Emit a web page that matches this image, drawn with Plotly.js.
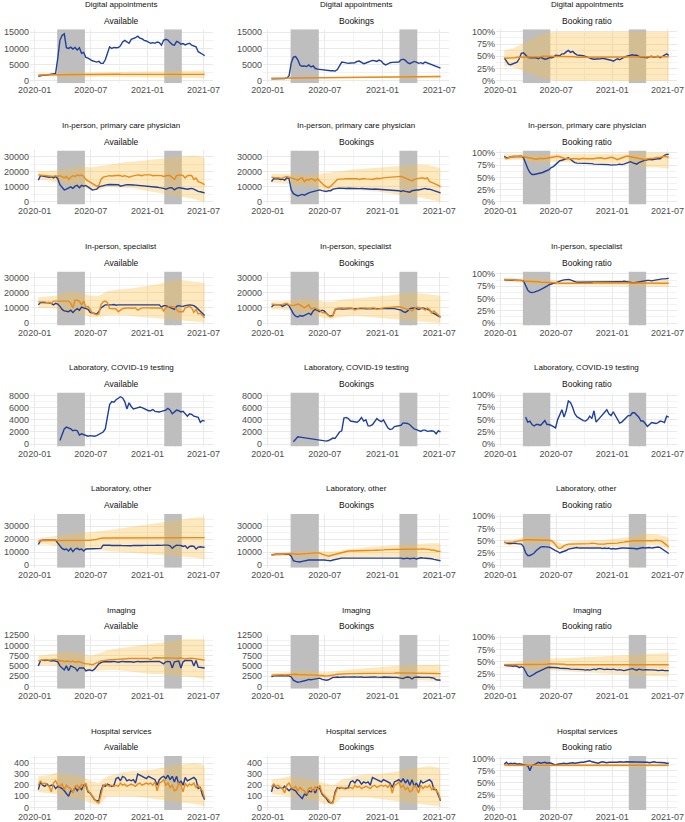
<!DOCTYPE html>
<html><head><meta charset="utf-8">
<script src="https://cdn.plot.ly/plotly-3.0.1.min.js"></script>
<style>html,body{margin:0;padding:0;background:#fff}#chart{width:685px;height:822px}</style>
</head><body><div id="chart"></div>
<script>
// ---------- categories / labels ----------
const rowTitles = ['Digital appointments','In-person, primary care physician','In-person, specialist','Laboratory, COVID-19 testing','Laboratory, other','Imaging','Hospital services'];
const colTitles = ['Available','Bookings','Booking ratio'];
const lockStart = ['2020-03-14','2021-02-24'];
const lockEnd   = ['2020-06-12','2021-04-22'];

// weekly observation dates (Monday of each week, 2020-01-13 .. 2021-07-05)
const weeks = [];
for (let i = 0; i < 78; i++) { const d = new Date(Date.UTC(2020, 0, 13 + 7 * i)); weeks.push(d.toISOString().slice(0, 10)); }
// band (range) sampled every 4 weeks
const bandIdx = []; for (let i = 0; i <= 76; i += 4) bandIdx.push(i); bandIdx.push(77);
const bandDates = bandIdx.map(i => weeks[i]);

// ---------- Digital appointments ----------
const digAvailBlue = [1400,1600,1700,1700,1800,1900,2000,2100,2300,7000,
 12500,14000,14500,10200,10000,10400,9800,10300,9500,10200,
 8500,8800,7200,7000,6500,6200,6000,5800,6000,5400,
 5400,6500,8500,10500,10000,10300,10200,10300,10800,12000,
 12500,12000,11600,12800,13000,13300,13800,13200,13000,12500,
 12300,12000,11600,11800,11600,12000,11800,11000,12500,12800,
 12600,11800,11200,11000,12200,11900,11300,11500,11100,11400,
 11600,11000,10800,10500,9000,8700,8200,7800];
const digAvailOrange = [1800,1820,1830,1850,1850,1860,1870,1880,1900,1900,
 1880,1900,1920,1900,1910,1930,1920,1940,1950,1940,
 1950,1960,1950,1970,1980,1960,1970,1990,2000,1990,
 2000,2010,2000,2020,2030,2050,2070,2050,2030,2040,
 2050,2060,2070,2050,2040,2030,2020,2010,2000,2010,
 2020,2010,2000,1990,2000,2010,2000,1990,2000,2010,
 2000,1990,2000,2010,2000,1990,2000,2010,2000,1990,
 2000,2000,2010,2000,1990,2000,2000,1990];
const digAvailLo = [1500,1450,1400,1350,1300,1300,1250,1250,1200,1200,1150,1150,1100,1100,1050,1000,1000,950,950,900,900];
const digAvailHi = [2300,2350,2400,2450,2500,2500,2550,2600,2650,2700,2750,2800,2850,2900,2950,3000,3050,3100,3150,3200,3200];

const digBookBlue = [600,600,550,500,500,550,700,900,1500,5500,
 7300,7500,6500,4800,4500,4600,4400,4900,4300,4600,
 3800,3600,3500,3300,3300,3200,3200,3100,3100,3000,
 3500,4800,5800,5700,5500,5400,5500,5500,5600,6000,
 6100,5700,5300,5500,5800,6000,6300,6200,6000,6400,
 6100,5300,4900,5200,5600,5700,5800,5700,5800,6500,
 6700,6300,5600,5300,5700,6000,5800,5400,5600,5300,
 5800,5500,5300,4900,4800,4500,4100,3900];
const digBookOrange = [800,810,820,830,840,850,850,860,870,880,
 880,890,900,900,910,920,930,930,940,950,
 960,960,970,980,990,1000,1000,1010,1020,1030,
 1040,1050,1060,1070,1080,1090,1100,1100,1110,1120,
 1130,1140,1150,1150,1160,1170,1180,1180,1190,1200,
 1200,1210,1220,1220,1230,1230,1240,1240,1250,1250,
 1260,1260,1270,1270,1270,1280,1280,1280,1290,1290,
 1290,1300,1300,1300,1310,1310,1310,1320];
const digBookLo = [650,680,700,730,760,780,800,820,840,860,880,900,910,920,930,940,950,960,970,970,980];
const digBookHi = [950,980,1010,1050,1090,1130,1170,1210,1250,1290,1330,1370,1400,1430,1460,1490,1520,1550,1580,1610,1620];

const digRatioBlue = [47,40,34,33,35,37,38,45,56,57,
 53,48,47,47,46,47,45,48,46,44,
 45,47,47,48,52,51,51,55,55,59,
 62,58,60,56,53,52,52,51,50,48,
 46,45,44,44,44,45,46,45,45,44,
 42,40,43,45,43,46,48,50,51,52,
 53,52,52,50,48,48,47,47,49,50,
 48,49,50,47,50,53,55,52];
const digRatioOrange = [46,46,47,47,47,47,48,48,48,48,
 48,48,48,49,49,49,49,49,50,50,
 50,50,50,50,50,50,50,50,49,49,
 49,49,49,49,48,48,48,48,48,48,
 48,48,48,48,48,48,48,48,48,48,
 48,48,48,49,49,49,49,49,49,49,
 49,49,49,49,49,49,49,49,49,49,
 49,49,49,49,49,49,49,49];
const digRatioLo = [30,28,22,15,8,3,0,0,0,0,0,0,0,0,0,0,0,0,0,0,0];
const digRatioHi = [63,66,74,83,92,98,100,100,100,100,100,100,100,100,100,100,100,100,100,100,100];

// ---------- In-person, primary care physician ----------
const pcpAvailBlue = [14500,17500,17300,17000,16800,16500,16800,16000,17000,15500,
 11500,10000,8000,8500,9000,10000,9000,10500,11000,9500,
 11000,10500,11000,10000,8500,8000,8200,8500,10000,10500,
 11000,11500,11500,11600,11500,11400,11500,11500,10500,11000,
 11200,11500,11500,11200,11300,11200,11100,11000,11000,10800,
 10700,10500,10300,10200,10000,9800,9500,9500,9000,8500,
 9000,9500,9300,8000,9000,9500,9300,9000,9200,8500,
 8800,9000,8500,7500,7000,6800,6500,6000];
const pcpAvailOrange = [18000,17800,17600,17500,17300,17500,17200,17000,17500,17000,
 17500,16500,16000,17000,15000,16500,17500,17000,18000,17500,
 18000,17000,15000,14000,13000,12000,11000,10500,11000,15000,
 16500,17000,17500,17500,17300,17500,17500,17800,17500,17000,
 17500,17000,16500,17000,17500,17800,18000,17800,17500,18000,
 17800,18000,18000,17500,17600,17500,17800,17500,17000,17500,
 17800,17500,16500,15000,17500,17800,18000,17500,16000,17500,
 17800,17500,15000,16000,13500,13000,12000,11500];
const pcpAvailLo = [15000,14500,13000,11500,11000,10000,8000,8000,10000,10000,9500,9000,8500,7500,6500,5000,4000,3000,2000,500,0];
const pcpAvailHi = [20500,20500,21000,22000,23000,24000,23000,24000,25000,26000,26500,27000,27500,28000,28500,29500,30000,30500,31000,30000,29000];

const pcpBookBlue = [13500,15500,15500,15600,15000,15200,14500,16000,15500,8000,
 5500,4500,4000,4500,5000,4500,5500,6000,6500,7000,
 7500,7500,8000,7500,7000,7000,7500,7500,8500,9000,
 9000,9200,9000,8900,9000,9100,9000,8900,9000,8800,
 8900,9000,8800,8700,8800,8600,8500,8600,8500,8400,
 8500,8300,8200,8000,8000,7800,7900,7800,7500,7000,
 7500,7000,6500,6500,7500,8000,8000,8000,8500,8500,
 9000,8500,8500,8000,7500,7000,6500,6000];
const pcpBookOrange = [16500,16000,16000,16200,15800,16000,16500,17000,16500,16000,
 15500,15000,14500,15500,16000,13500,15000,14500,15500,15000,
 14000,15500,14000,12000,11000,10000,9500,10500,12000,14000,
 15000,15200,15500,15300,15500,15600,15500,15400,15600,15500,
 15000,15500,15600,15400,15500,15200,15000,15500,15800,15500,
 15500,16000,16200,16300,16500,16500,16800,17000,16800,17000,
 16500,16000,15000,14500,14000,15000,15500,15500,16000,16000,
 15500,16000,13500,13000,12500,12000,11000,10000];
const pcpBookLo = [13000,12500,12000,10500,10500,9500,8000,8000,8500,8500,8000,7500,7000,6500,5500,4500,3500,3000,2000,500,0];
const pcpBookHi = [19000,19000,19000,18500,18000,18500,19000,19500,20500,21500,22000,22500,23000,23500,24000,24500,25000,25000,24500,23000,22000];

const pcpRatioBlue = [93,90,90,92,92,92,92,92,93,90,
 78,68,60,56,56,57,57,58,60,62,
 64,66,70,72,76,80,84,85,86,88,
 90,87,83,80,79,79,79,79,79,78,
 78,78,77,77,77,77,76,76,76,76,
 75,75,75,76,77,76,77,79,80,82,
 80,79,77,80,82,84,85,86,87,86,
 87,88,88,88,92,95,97,97];
const pcpRatioOrange = [91,88,90,92,93,93,92,92,93,92,
 91,90,89,88,88,87,88,89,88,88,
 89,90,91,92,93,93,92,90,89,88,
 88,88,89,88,88,87,88,89,88,88,
 88,87,88,89,90,90,89,88,89,90,
 91,90,88,86,88,90,92,93,93,92,
 92,91,90,89,88,87,86,88,88,88,
 89,90,90,91,92,93,92,91];
const pcpRatioLo = [85,86,86,82,80,82,82,82,80,80,80,80,78,78,78,76,72,70,70,68,68];
const pcpRatioHi = [97,98,98,97,96,96,98,98,97,97,97,97,98,98,98,99,100,100,100,100,100];

// ---------- In-person, specialist ----------
const specAvailBlue = [12000,13500,13500,13500,13300,13400,13000,12000,13000,12500,
 11000,9000,8000,7500,7500,8500,7000,8500,9500,8500,
 10500,10000,9500,9000,7000,6500,6200,6000,7500,10000,
 11000,12000,12000,11800,12000,12200,11800,12000,12000,11800,
 11800,12000,12000,11900,12000,12000,11800,12000,11900,12000,
 12000,11800,12000,11800,12000,11900,12000,10500,11500,11500,
 11000,10500,10000,9000,11000,11500,11200,11000,11500,11800,
 12000,11800,11500,10500,9000,8000,6000,5000];
const specAvailOrange = [14000,14000,13800,14000,13500,13800,13000,14500,14500,14300,
 14500,14500,14300,14500,14500,13000,10000,15000,15000,14500,
 12000,14500,10500,11000,9000,6500,6000,5500,6000,12000,
 14000,14500,13500,9500,9500,9500,9300,7500,8500,9500,
 9800,10000,10000,9800,10000,10000,8500,9500,10000,10000,
 9800,10000,9900,10000,10000,10000,9800,10000,8000,10000,
 10500,11000,10800,10500,9000,7500,7500,7500,10000,10500,
 11000,10000,7000,9000,6000,6500,5000,3500];
const specAvailLo = [10000,10000,9500,7000,6500,6000,4000,4000,5000,5000,5000,4500,4000,3500,3000,2500,2000,1500,1000,500,0];
const specAvailHi = [17000,17500,18000,20000,21000,20000,18000,18000,21000,22000,22500,23000,24000,25000,26000,27500,28500,28000,27500,27000,26500];

const specBookBlue = [10500,12000,12000,11800,12000,11000,11800,12500,11500,8500,
 6000,4500,4000,5000,4500,5000,5500,6500,5500,8000,
 9000,8000,7500,8500,8000,6500,5000,4500,5000,9000,
 9500,9500,9300,9500,9400,9500,9600,9500,9400,9500,
 9500,9600,9500,9400,9500,9500,9400,9500,9600,9500,
 9500,9400,9500,9500,9600,9500,9500,9200,9000,8500,
 7500,7000,8000,9500,9800,10000,9500,9000,9500,10000,
 9500,9000,8500,7000,6500,5500,4500,4000];
const specBookOrange = [12500,12300,12000,12200,12000,12300,12800,13000,12000,11800,
 11500,12000,12500,12000,11000,10000,11000,12000,9500,9800,
 10000,9000,8500,7000,6800,6500,5000,4000,4800,9000,
 9800,10000,10000,9800,10000,10000,9900,9800,8500,9500,
 10000,10000,9900,10000,10000,9800,10000,10000,9000,9500,
 10000,10000,10200,10300,10500,10600,10800,11000,10800,10500,
 10200,9500,9000,9000,8000,9000,10500,10300,10000,9500,
 8500,10000,9000,6500,8000,6500,5000,4000];
const specBookLo = [9000,9000,8500,6500,6000,5500,3000,3000,4000,4500,4500,4000,3500,3000,2500,2000,1500,1000,500,0,0];
const specBookHi = [14000,14000,14500,16000,16500,15500,14000,14000,15500,16000,16500,17000,17500,18000,18500,19500,20000,19500,19000,18500,18000];

const specRatioBlue = [88,88,88,88,88,87,87,87,87,86,
 78,67,63,62,63,64,66,68,70,73,
 75,78,80,81,82,84,86,87,88,89,
 89,88,86,84,83,83,83,84,83,83,
 83,84,83,83,84,84,83,83,84,84,
 83,84,84,83,84,84,85,84,83,83,
 82,82,83,84,85,86,86,87,87,86,
 87,88,89,89,90,90,91,91];
const specRatioOrange = [89,89,88,88,88,87,87,87,86,86,
 85,85,85,84,84,84,84,83,83,83,
 83,83,82,82,82,82,81,81,81,81,
 80,80,80,80,80,80,80,81,81,81,
 81,81,82,82,82,82,82,82,82,82,
 82,82,82,82,82,82,82,82,82,82,
 82,82,81,81,81,81,81,81,81,81,
 81,81,81,81,81,81,81,81];
const specRatioLo = [84,84,82,80,79,78,77,76,76,76,76,76,76,76,76,75,75,75,74,74,74];
const specRatioHi = [92,92,91,90,89,88,88,87,87,87,87,87,88,88,88,88,88,88,88,88,88];

// ---------- Laboratory, COVID-19 testing (no comparison series) ----------
const labCovAvailBlue = [null,null,null,null,null,null,null,null,null,null,
 600,1500,2500,2800,2700,2500,2200,2300,2200,1500,
 1700,1600,1500,1300,1400,1300,1300,1400,1600,1700,
 2000,2500,4500,6500,7000,6900,7300,7500,7800,7600,
 7000,5800,6800,6200,5800,5900,6000,6100,6000,5800,
 5700,5500,5500,5700,5400,5300,5300,5400,5500,5600,
 5900,5600,5000,5300,5600,5500,5300,5400,5000,4600,
 5000,4900,4600,4500,4400,3600,3900,3800];
const labCovBookBlue = [null,null,null,null,null,null,null,null,null,null,
 400,900,1200,1150,1100,1000,900,950,900,800,
 750,700,650,600,550,500,600,800,1000,950,
 1500,2000,2200,4300,4400,4200,3800,3700,3700,3600,
 3900,4400,3800,4000,3000,3000,3200,3700,4200,3900,
 3700,4000,3400,2700,2400,2500,2900,3000,3000,3100,
 3500,3500,3400,3200,2800,2500,2400,2300,2100,2300,
 2300,2100,2200,2200,2100,1700,2200,2000];
const labCovRatioBlue = [null,null,null,null,null,null,null,null,null,null,
 55,45,47,40,37,40,40,38,43,48,
 40,40,38,35,33,50,62,70,55,68,
 88,85,75,62,56,53,50,48,47,50,
 57,52,68,45,50,55,58,65,70,62,
 58,66,58,50,43,45,50,55,58,58,
 64,64,60,55,47,47,42,36,40,44,
 43,42,44,47,46,44,57,55];

// ---------- Laboratory, other ----------
const labAvailBlue = [16000,19000,19200,19200,19000,19200,19300,19000,19200,17000,
 14500,13000,12000,12500,11000,13000,10500,12500,13000,12000,
 12500,11000,12500,12500,12500,12500,12800,12500,12600,13000,
 15500,15600,15500,15400,15200,15300,15000,15200,15300,15100,
 15000,15200,15100,15000,15300,15200,15000,15100,15200,15300,
 15200,15400,15300,15200,15300,15400,15200,15300,15500,15600,
 15500,15000,13000,14500,15400,15300,15200,14500,15000,13000,
 14500,14800,14500,12500,14000,14200,14000,13800];
const labAvailOrange = [18500,19000,19000,19000,19000,19000,19000,19000,19000,19000,
 19000,19000,18900,18800,18900,19000,19000,18900,19000,19000,
 19000,19000,19000,19000,19200,19500,19600,19800,20500,21000,
 21000,21000,21000,21000,21000,21000,21000,21000,21000,21000,
 21000,21000,21000,21100,21000,21000,21000,21100,21200,21100,
 21100,21200,21200,21200,21200,21300,21300,21300,21300,21300,
 21300,21300,21300,21300,21300,21300,21300,21300,21300,21300,
 21300,21300,21300,21300,21300,21300,21300,21300];
const labAvailLo = [16000,16000,15000,14000,13000,12500,11500,11000,11000,10500,10000,9500,9000,8500,8000,7500,7000,6500,6000,5000,4500];
const labAvailHi = [21000,21500,22500,23500,24500,25000,25500,26000,27000,28000,29000,30000,31000,32000,33000,34000,35000,35500,36500,37000,37000];

const labBookBlue = [8000,8500,8500,8600,8500,8500,8600,8500,8500,7000,
 3500,3000,2500,2500,3000,3500,3500,4000,4000,4000,
 4500,4500,4500,4000,4000,3800,3500,3500,4000,4500,
 5000,5500,5500,5500,5500,5600,5500,5500,5600,5500,
 5500,5600,5500,5500,5500,5600,5500,5400,5500,5500,
 5400,5500,5400,5500,5500,5600,5500,5500,5500,5500,
 5000,5500,5500,5000,5500,5500,4800,5500,5800,5600,
 5500,5500,5000,5000,4500,4000,3800,3500];
const labBookOrange = [8000,8200,8300,8500,8400,8500,8600,8800,9000,9000,
 8800,8500,8500,8600,8800,9000,9000,9200,9300,9500,
 9500,9500,9300,8500,8000,7500,7000,7500,8000,8500,
 9000,9500,10000,10500,10800,11000,11000,11000,11200,11000,
 11000,11200,11300,11200,11300,11500,11500,11500,11600,11500,
 11600,11800,12000,12000,12000,12100,12200,12200,12300,12500,
 12500,12300,12200,12000,12300,12500,12200,12000,12500,12600,
 12500,12300,12000,11500,11800,11000,11000,10500];
const labBookLo = [7000,7000,7000,6500,6000,6000,5000,5000,5500,6000,6500,6500,6500,6500,6500,6000,6000,5500,5500,5000,4500];
const labBookHi = [9500,9800,10000,10500,11000,11000,10500,10500,11500,12500,13500,14000,14500,15000,15500,16000,16500,17000,17000,17000,16500];

const labRatioBlue = [47,45,44,44,45,45,44,43,43,38,
 25,20,20,22,25,30,33,37,38,38,
 38,37,35,32,30,28,25,27,28,30,
 33,34,35,35,36,35,35,36,35,36,
 35,36,35,35,36,35,34,35,34,35,
 33,34,33,34,35,35,35,35,34,35,
 35,34,33,34,35,36,35,36,36,35,
 36,37,37,36,33,30,27,24];
const labRatioOrange = [46,46,46,47,47,48,49,50,51,52,
 52,52,52,52,52,52,52,51,52,52,
 52,51,50,47,42,36,34,36,40,42,
 43,43,43,43,44,43,43,44,43,44,
 44,45,45,44,43,43,42,43,44,44,
 44,44,45,45,46,46,47,48,48,49,
 50,50,49,49,49,50,50,49,50,50,
 50,51,51,50,48,45,41,37];
const labRatioLo = [40,40,43,45,45,44,38,30,35,37,37,37,37,38,38,40,40,40,40,36,30];
const labRatioHi = [52,52,56,58,58,57,50,42,48,50,50,51,52,54,56,60,63,64,62,58,55];

// ---------- Imaging ----------
const imgAvailBlue = [5000,6300,6400,6300,6400,6300,6200,6300,6200,6000,
 5000,4500,4000,5000,3800,5000,4800,4500,3800,4500,
 4500,4500,3800,4000,4000,3800,4200,5000,5500,5800,
 6000,6000,6000,5900,6000,6100,6000,5900,6000,6100,
 6000,6000,6100,6000,5900,6000,6100,6000,6000,6100,
 6000,6000,6100,6000,6000,6000,6100,5800,5500,6000,
 6100,6000,4500,6000,6100,6200,4500,6000,6300,6300,
 6400,6300,5000,6300,4700,4600,4500,4500];
const imgAvailOrange = [6300,6400,6500,6500,6500,6400,6500,6500,6600,6400,
 6200,6300,6000,6200,6100,6000,6200,5900,6000,6100,
 5800,5600,5500,5500,5400,5300,5500,5800,6000,6200,
 6300,6400,6400,6500,6500,6600,6600,6600,6700,6700,
 6700,6800,6800,6800,6800,6900,6900,6800,6900,6900,
 6900,6800,6500,6900,7000,7000,7000,7000,7000,7000,
 7000,7000,7000,6900,6800,6900,7000,6800,6700,6800,
 6900,6900,6800,6700,6600,6500,6500,6400];
const imgAvailLo = [5000,5200,5000,4500,4500,4000,3800,3800,4000,4000,3800,3500,3300,3000,3000,2800,2600,2400,2200,1800,1500];
const imgAvailHi = [7500,7700,8000,8500,8500,8000,7500,8000,8800,9200,9500,9800,10000,10300,10600,11000,11300,11500,11500,11500,11300];

const imgBookBlue = [2300,2600,2600,2600,2650,2600,2600,2600,2550,2300,
 1500,1200,1000,1100,1200,1300,1500,1700,1600,1700,
 1800,1800,2000,1700,1600,1500,1600,2000,2200,2200,
 2300,2200,2300,2300,2250,2300,2200,2300,2300,2250,
 2300,2300,2200,2250,2300,2200,2300,2300,2250,2200,
 2200,2300,2250,2200,2200,2100,2200,2200,2100,2000,
 1900,2200,2300,2200,1800,2200,2300,2300,2200,2200,
 2300,2200,2200,2100,2000,1600,1500,1500];
const imgBookOrange = [2700,2750,2800,2800,2800,2850,2800,2850,2900,3000,
 3000,2950,2900,2900,2900,2850,2900,2850,2800,2800,
 2750,2700,2700,2650,2600,2500,2550,2650,2750,2850,
 2950,3000,3000,3050,3050,3050,3100,3100,3100,3100,
 3100,3100,3100,3150,3100,3150,3150,3100,3150,3150,
 3100,3100,3150,3200,3200,3250,3250,3300,3300,3300,
 3300,3300,3300,3250,3250,3300,3300,3200,3250,3200,
 3200,3200,3250,3200,3150,3150,3100,3100];
const imgBookLo = [2300,2300,2200,2000,2000,1900,1800,1800,1900,2000,2000,1900,1800,1800,1700,1600,1500,1500,1400,1300,1300];
const imgBookHi = [3200,3300,3500,3800,3800,3600,3400,3600,3900,4100,4300,4500,4700,4800,5000,5100,5200,5300,5300,5300,5300];

const imgRatioBlue = [43,42,42,42,41,42,41,38,40,38,
 30,22,20,22,25,28,30,33,35,37,
 38,39,39,39,38,38,37,37,36,36,
 36,35,35,35,34,35,34,34,33,34,
 33,34,35,34,36,36,35,34,35,34,
 34,35,34,33,34,33,32,33,34,34,
 36,34,33,35,34,33,34,34,34,33,
 34,33,32,33,33,32,32,32];
const imgRatioOrange = [44,44,44,44,44,44,44,44,44,44,
 44,44,44,44,44,44,44,45,45,45,
 45,46,46,46,46,45,45,45,45,44,
 44,44,44,44,44,44,44,44,44,44,
 44,44,44,44,44,44,44,44,44,44,
 44,44,44,44,44,44,44,44,44,44,
 44,44,44,44,44,44,44,44,44,44,
 44,44,44,44,44,44,44,44];
const imgRatioLo = [40,40,38,35,34,33,32,31,30,29,28,27,26,25,24,23,22,21,20,20,20];
const imgRatioHi = [47,48,50,52,54,56,57,57,58,59,60,61,62,63,64,65,66,67,68,68,68];

// ---------- Hospital services ----------
const hospAvailBlue = [160,230,200,190,210,190,200,200,170,190,
 180,170,150,120,100,150,140,180,150,180,
 160,200,200,140,130,100,70,60,60,150,
 200,190,210,200,190,200,260,270,240,280,
 270,240,250,240,250,220,300,290,280,270,
 260,280,270,260,250,200,250,270,280,260,
 290,250,280,230,280,210,240,200,270,240,
 250,260,270,250,170,180,110,70];
const hospAvailOrange = [200,240,210,220,200,190,140,220,240,200,
 190,210,160,200,180,170,130,190,200,160,
 210,180,220,150,130,100,80,50,40,130,
 190,210,200,190,200,190,200,190,220,200,
 210,190,200,210,200,190,210,220,200,210,
 220,210,220,200,230,150,220,230,250,200,
 220,180,200,150,160,220,200,140,220,190,
 210,200,220,180,200,170,150,80];
const hospAvailLo = [140,130,120,100,80,80,40,20,100,100,100,100,90,80,70,60,50,40,30,20,0];
const hospAvailHi = [280,290,310,300,290,280,240,220,280,300,320,330,330,340,350,370,380,390,400,390,360];

const hospBookBlue = [140,210,180,170,180,170,190,170,150,170,
 160,150,120,100,80,120,110,150,140,160,
 130,180,170,120,100,80,50,40,50,140,
 180,170,180,170,170,180,230,240,220,250,
 240,210,230,220,230,200,270,260,250,240,
 230,250,240,230,220,180,230,240,250,230,
 260,220,250,200,250,190,220,180,240,220,
 230,240,250,230,160,160,100,60];
const hospBookOrange = [180,210,190,200,180,170,130,200,220,180,
 170,190,150,180,160,150,120,170,180,140,
 190,160,200,130,110,90,70,40,40,120,
 170,180,180,170,180,170,180,170,200,180,
 190,170,180,190,180,170,190,200,180,190,
 200,190,200,180,210,130,200,210,230,180,
 200,160,180,140,150,200,180,130,200,170,
 190,180,200,160,180,150,130,70];
const hospBookLo = [120,110,100,90,70,70,30,20,90,90,90,90,80,70,60,50,40,30,20,10,0];
const hospBookHi = [250,260,280,270,260,250,220,200,250,270,290,300,300,310,320,340,350,360,370,360,330];

const hospRatioBlue = [88,92,88,90,89,90,88,89,88,87,
 87,85,75,86,87,90,92,90,91,92,
 90,91,90,88,86,88,89,90,90,89,
 90,90,91,90,91,91,92,92,93,94,
 95,93,92,91,90,92,93,92,91,92,
 92,92,91,92,93,92,92,93,93,93,
 93,93,92,93,93,92,93,92,91,92,
 93,92,92,91,92,91,90,90];
const hospRatioOrange = [87,86,86,86,86,86,86,86,86,85,
 85,85,85,85,86,86,86,86,86,86,
 86,86,85,85,85,86,86,86,86,86,
 86,86,86,86,86,86,86,86,86,86,
 86,86,86,86,86,86,86,86,86,86,
 86,86,86,86,86,86,86,86,86,86,
 86,86,86,86,86,86,86,86,86,86,
 86,86,86,86,86,86,86,86];
const hospRatioLo = [83,83,83,83,83,83,83,83,83,83,83,83,83,83,83,83,83,83,83,83,83];
const hospRatioHi = [90,90,90,90,90,90,90,90,90,90,90,90,90,90,90,90,90,90,90,90,90];

// ---------- axis scale settings per row ----------
const rowMax   = [15150, 32700, 32400, 8080, 37800, 12000, 442];
const rowDtick = [5000, 10000, 10000, 2000, 10000, 2500, 100];

// ---------- panel assembly ----------
const panels = [
 [{b:digAvailBlue,o:digAvailOrange,lo:digAvailLo,hi:digAvailHi},{b:digBookBlue,o:digBookOrange,lo:digBookLo,hi:digBookHi},{b:digRatioBlue,o:digRatioOrange,lo:digRatioLo,hi:digRatioHi}],
 [{b:pcpAvailBlue,o:pcpAvailOrange,lo:pcpAvailLo,hi:pcpAvailHi},{b:pcpBookBlue,o:pcpBookOrange,lo:pcpBookLo,hi:pcpBookHi},{b:pcpRatioBlue,o:pcpRatioOrange,lo:pcpRatioLo,hi:pcpRatioHi}],
 [{b:specAvailBlue,o:specAvailOrange,lo:specAvailLo,hi:specAvailHi},{b:specBookBlue,o:specBookOrange,lo:specBookLo,hi:specBookHi},{b:specRatioBlue,o:specRatioOrange,lo:specRatioLo,hi:specRatioHi}],
 [{b:labCovAvailBlue},{b:labCovBookBlue},{b:labCovRatioBlue}],
 [{b:labAvailBlue,o:labAvailOrange,lo:labAvailLo,hi:labAvailHi},{b:labBookBlue,o:labBookOrange,lo:labBookLo,hi:labBookHi},{b:labRatioBlue,o:labRatioOrange,lo:labRatioLo,hi:labRatioHi}],
 [{b:imgAvailBlue,o:imgAvailOrange,lo:imgAvailLo,hi:imgAvailHi},{b:imgBookBlue,o:imgBookOrange,lo:imgBookLo,hi:imgBookHi},{b:imgRatioBlue,o:imgRatioOrange,lo:imgRatioLo,hi:imgRatioHi}],
 [{b:hospAvailBlue,o:hospAvailOrange,lo:hospAvailLo,hi:hospAvailHi},{b:hospBookBlue,o:hospBookOrange,lo:hospBookLo,hi:hospBookHi},{b:hospRatioBlue,o:hospRatioOrange,lo:hospRatioLo,hi:hospRatioHi}]
];

// ---------- style / geometry ----------
const W = 685, H = 822;
const FONT = '"Liberation Sans", Arial, Helvetica, sans-serif';
const BLUE = '#1f3f9c', ORANGE = '#ea8a17', BAND = 'rgba(253,190,70,0.35)', SHADE = 'rgb(190,190,190)';
const GRID = '#e9e9e9', GRID_MINOR = '#f2f2f2';
const COL_L = [30, 263, 496], COL_R = [213, 449, 677];
const ROW_TOP0 = 29.3, ROW_STEP = 121.1, PANEL_H = 54;
const X_RANGE = ['2019-12-17', '2021-08-01'];

const traces = [];
const layout = {
  width: W, height: H, margin: {l:0, r:0, t:0, b:0}, showlegend: false,
  paper_bgcolor: '#ffffff', plot_bgcolor: '#ffffff', font: {family: FONT, size: 9, color: '#4d4d4d'},
  annotations: []
};
const problems = [];

panels.forEach((row, r) => row.forEach((p, c) => {
  const k = r * 3 + c + 1, sfx = k === 1 ? '' : String(k);
  const xa = 'x' + sfx, ya = 'y' + sfx;
  const top = ROW_TOP0 + r * ROW_STEP, bot = top + PANEL_H;
  const isRatio = c === 2;
  const M = isRatio ? 100 : rowMax[r];
  const dt = isRatio ? 25 : rowDtick[r];
  const yr = [-0.05 * M, 1.05 * M];
  layout['xaxis' + sfx] = {
    domain: [COL_L[c] / W, COL_R[c] / W], anchor: ya, type: 'date', range: X_RANGE,
    tick0: '2020-01-01', dtick: 'M6', tickformat: '%Y-%m',
    showgrid: true, gridcolor: GRID, gridwidth: 1,
    minor: {tick0: '2020-01-01', dtick: 'M3', showgrid: true, gridcolor: GRID_MINOR, gridwidth: 1},
    zeroline: false, showline: false, ticks: '', tickfont: {size: 9, color: '#4d4d4d'},
    automargin: false, fixedrange: true
  };
  layout['yaxis' + sfx] = {
    domain: [1 - bot / H, 1 - top / H], anchor: xa, range: yr,
    tick0: 0, dtick: dt, tickformat: 'd', ticksuffix: isRatio ? '%' : '',
    showgrid: true, gridcolor: GRID, gridwidth: 1,
    minor: {tick0: 0, dtick: dt / 2, showgrid: true, gridcolor: GRID_MINOR, gridwidth: 1},
    zeroline: false, showline: false, ticks: '', tickfont: {size: 9, color: '#4d4d4d'},
    automargin: false, fixedrange: true
  };
  // lockdown periods: filled polygons spanning the full y-range, drawn above the grid
  lockStart.forEach((s, j) => traces.push({
    type: 'scatter', mode: 'lines', xaxis: xa, yaxis: ya,
    x: [s, s, lockEnd[j], lockEnd[j], s], y: [yr[0], yr[1], yr[1], yr[0], yr[0]],
    fill: 'toself', fillcolor: SHADE, line: {width: 0}, hoverinfo: 'skip'
  }));
  if (p.lo) {
    if (p.lo.length !== bandDates.length || p.hi.length !== bandDates.length) problems.push('band r' + r + 'c' + c);
    traces.push({type: 'scatter', mode: 'lines', xaxis: xa, yaxis: ya,
      x: bandDates.concat(bandDates.slice().reverse()), y: p.hi.concat(p.lo.slice().reverse()),
      fill: 'toself', fillcolor: BAND, line: {width: 0}, hoverinfo: 'skip'});
  }
  if (p.b.length !== weeks.length) problems.push('blue r' + r + 'c' + c + ':' + p.b.length);
  traces.push({type: 'scatter', mode: 'lines', xaxis: xa, yaxis: ya, x: weeks, y: p.b,
    line: {color: BLUE, width: 1.4}, connectgaps: false, hoverinfo: 'skip'});
  if (p.o) {
    if (p.o.length !== weeks.length) problems.push('orange r' + r + 'c' + c + ':' + p.o.length);
    traces.push({type: 'scatter', mode: 'lines', xaxis: xa, yaxis: ya, x: weeks, y: p.o,
      line: {color: ORANGE, width: 1.4}, hoverinfo: 'skip'});
  }
  const cx = (COL_L[c] + COL_R[c]) / 2 / W;
  layout.annotations.push({xref: 'paper', yref: 'paper', x: cx, y: 1 - (4.5 + r * ROW_STEP) / H,
    xanchor: 'center', yanchor: 'middle', showarrow: false, text: rowTitles[r], font: {size: 8, color: '#111111'}});
  layout.annotations.push({xref: 'paper', yref: 'paper', x: cx, y: 1 - (20.7 + r * ROW_STEP) / H,
    xanchor: 'center', yanchor: 'middle', showarrow: false, text: colTitles[c], font: {size: 8.5, color: '#111111'}});
}));

if (problems.length) layout.annotations.push({xref:'paper',yref:'paper',x:0.5,y:0.5,showarrow:false,
  text:'LEN: ' + problems.join(', '), font:{size:14,color:'red'}, bgcolor:'#fff'});

Plotly.newPlot('chart', traces, layout, {staticPlot: true, displayModeBar: false});
</script>
</body></html>
